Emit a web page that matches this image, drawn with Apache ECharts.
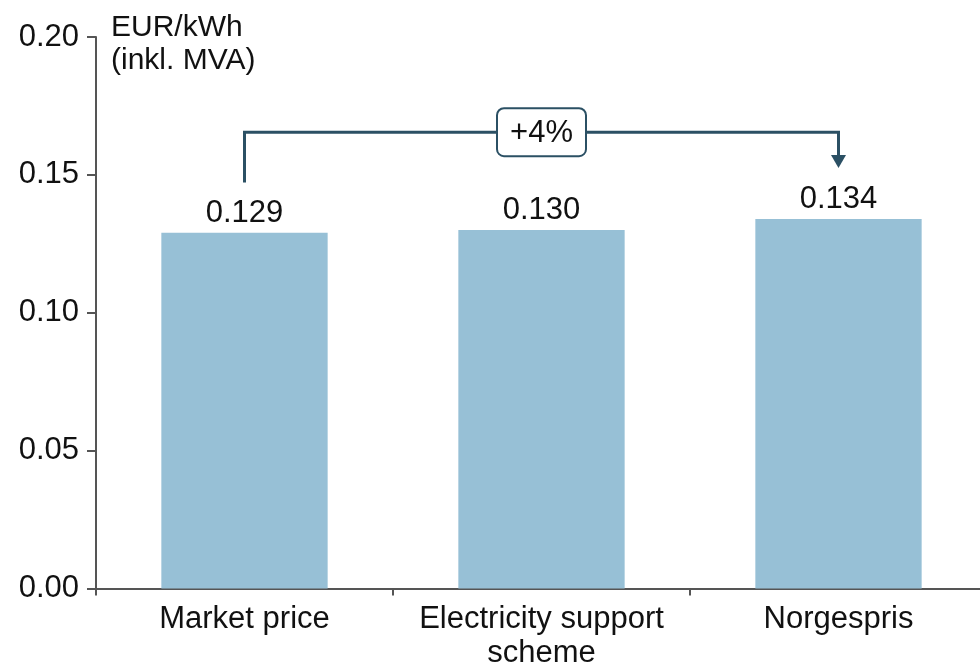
<!DOCTYPE html>
<html>
<head>
<meta charset="utf-8">
<script src="https://cdn.jsdelivr.net/npm/echarts@6/dist/echarts.min.js"></script>
<style>
  html, body { margin: 0; padding: 0; background: #fff; }
  #chart { width: 980px; height: 667px; }
</style>
</head>
<body>
<div id="chart"></div>
<script>
// Price per kWh (incl. VAT) under three pricing regimes
const categories = ['Market price', 'Electricity support\nscheme', 'Norgespris'];
const prices = [0.129, 0.130, 0.134];
const yTicks = [0.00, 0.05, 0.10, 0.15, 0.20];
const changeLabel = '+4%';

const FONT = 'Liberation Sans, Arial, Helvetica, sans-serif';
const FONT_SIZE = 31;
const BAR_COLOR = '#97c0d6';
const AXIS_COLOR = '#555';
const NOTE_COLOR = '#2b5064';

// Bracket levels (in axis units) for the comparison arrow
const BRACKET_Y = 0.1655;
const LEG_START = 0.1472;
const ARROW_TIP = 0.1525;

const chart = echarts.init(document.getElementById('chart'), null, { renderer: 'canvas' });

const option = {
  animation: false,
  backgroundColor: '#ffffff',
  textStyle: { fontFamily: FONT },
  title: {
    text: 'EUR/kWh\n(inkl. MVA)',
    left: 111,
    top: 11,
    padding: 0,
    textStyle: {
      fontFamily: FONT,
      fontSize: 30,
      fontWeight: 'normal',
      color: '#111',
      lineHeight: 33
    }
  },
  // plot area runs a few pixels past the right edge of the canvas
  grid: {
    left: 96, width: 891, top: 37, bottom: 78.5,
    containLabel: false,
    outerBoundsMode: 'none'
  },
  xAxis: {
    type: 'category',
    data: categories,
    axisLine: { lineStyle: { color: AXIS_COLOR, width: 2 } },
    axisTick: { show: true, length: 7, lineStyle: { color: AXIS_COLOR, width: 2 } },
    axisLabel: {
      interval: 0,
      hideOverlap: false,
      color: '#111',
      fontFamily: FONT,
      fontSize: FONT_SIZE,
      lineHeight: 34,
      margin: 14
    }
  },
  yAxis: {
    type: 'value',
    min: yTicks[0],
    max: yTicks[yTicks.length - 1],
    interval: yTicks[1] - yTicks[0],
    splitLine: { show: false },
    axisLine: { show: true, lineStyle: { color: AXIS_COLOR, width: 2 } },
    axisTick: { show: true, length: 9, lineStyle: { color: AXIS_COLOR, width: 2 } },
    axisLabel: {
      color: '#111',
      fontFamily: FONT,
      fontSize: FONT_SIZE,
      margin: 17,
      formatter: v => v.toFixed(2)
    }
  },
  series: [
    {
      type: 'bar',
      data: prices,
      barWidth: '56%',
      itemStyle: { color: BAR_COLOR },
      label: {
        show: true,
        position: 'top',
        distance: 4,
        color: '#111',
        fontFamily: FONT,
        fontSize: FONT_SIZE,
        formatter: p => p.value.toFixed(3)
      }
    },
    {
      // Comparison bracket from the first to the last bar
      type: 'custom',
      silent: true,
      z: 10,
      data: [[0, categories.length - 1]],
      renderItem: function (params, api) {
        const from = api.value(0);
        const to = api.value(1);
        const pStart = api.coord([from, LEG_START]);
        const pTopL = api.coord([from, BRACKET_Y]);
        const pTopR = api.coord([to, BRACKET_Y]);
        const pTip = api.coord([to, ARROW_TIP]);
        const head = 13;
        const halfW = 7.5;
        const midX = (pTopL[0] + pTopR[0]) / 2;
        const boxW = 89, boxH = 48;
        return {
          type: 'group',
          children: [
            {
              type: 'polyline',
              shape: { points: [pStart, pTopL, pTopR, [pTip[0], pTip[1] - head + 1]] },
              style: { stroke: NOTE_COLOR, lineWidth: 3, fill: null, lineJoin: 'miter' }
            },
            {
              type: 'polygon',
              shape: {
                points: [
                  [pTip[0] - halfW, pTip[1] - head],
                  [pTip[0] + halfW, pTip[1] - head],
                  [pTip[0], pTip[1]]
                ]
              },
              style: { fill: NOTE_COLOR }
            },
            {
              type: 'rect',
              shape: { x: midX - boxW / 2, y: pTopL[1] - boxH / 2, width: boxW, height: boxH, r: 7 },
              style: { fill: '#fff', stroke: NOTE_COLOR, lineWidth: 2 }
            },
            {
              type: 'text',
              x: midX,
              y: pTopL[1] + 1,
              style: {
                text: changeLabel,
                fontFamily: FONT,
                fontSize: FONT_SIZE,
                fill: '#111',
                align: 'center',
                verticalAlign: 'middle'
              }
            }
          ]
        };
      }
    }
  ]
};

chart.setOption(option);
</script>
</body>
</html>
